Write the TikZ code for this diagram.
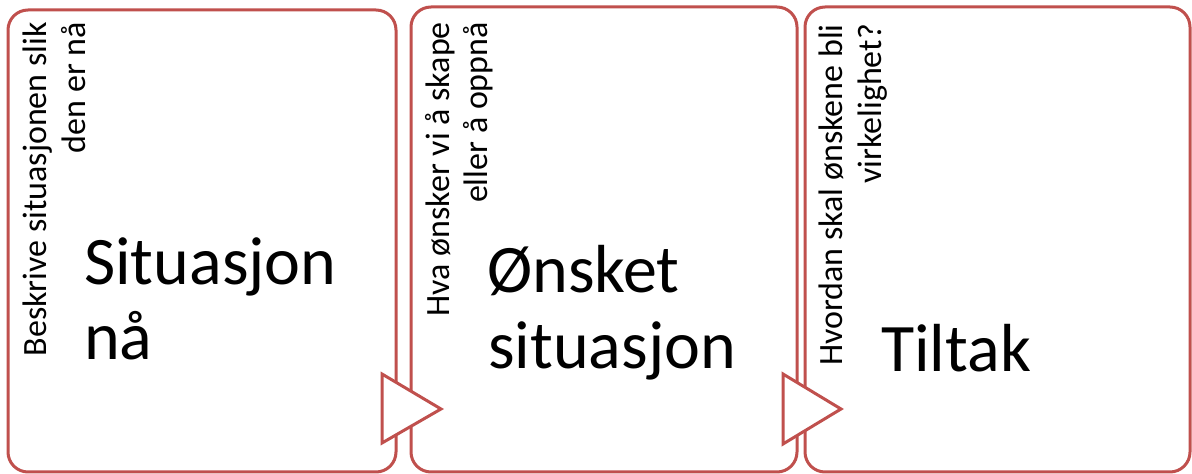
\documentclass[tikz,border=0pt]{standalone}
\usepackage{fontspec}
\setmainfont{Carlito}
\definecolor{boxred}{HTML}{C0504D}
\tikzset{
  stage/.style={draw=boxred, line width=3pt, rounded corners=20pt, fill=white},
  flowtip/.style={draw=boxred, line width=3pt, fill=white, line join=miter},
  bigtext/.style={inner sep=0pt, anchor=base west, font=\fontsize{68}{74}\selectfont},
  sidetext/.style={inner sep=0pt, anchor=base east, rotate=90, font=\fontsize{34}{38}\selectfont}
}
\begin{document}
\begin{tikzpicture}[x=1pt,y=1pt]
\useasboundingbox (0,0) rectangle (1192,474);

% three stage boxes
\draw[stage] (8,2) rectangle (396,464);
\draw[stage] (411,2) rectangle (797,467);
\draw[stage] (805,2) rectangle (1190,467);

% arrow heads between the stages
\draw[flowtip] (382,100) -- (441,65) -- (382,31) -- cycle;
\draw[flowtip] (783,100) -- (841,65) -- (783,30) -- cycle;

% stage 1
\node[sidetext] (s1a) at (46,452) {Beskrive situasjonen slik};
\node[sidetext] (s1b) at (85,452) {den er nå};
\node[bigtext] (t1a) at (84,189) {Situasjon};
\node[bigtext] (t1b) at (84,114) {nå};

% stage 2
\node[sidetext] (s2a) at (449,452) {Hva ønsker vi å skape};
\node[sidetext] (s2b) at (487,452) {eller å oppnå};
\node[bigtext] (t2a) at (487,181) {Ønsket};
\node[bigtext] (t2b) at (488,105) {situasjon};

% stage 3
\node[sidetext] (s3a) at (842,450) {Hvordan skal ønskene bli};
\node[sidetext] (s3b) at (881,450) {virkelighet?};
\node[bigtext] (t3a) at (881,102) {Tiltak};
\end{tikzpicture}
\end{document}
